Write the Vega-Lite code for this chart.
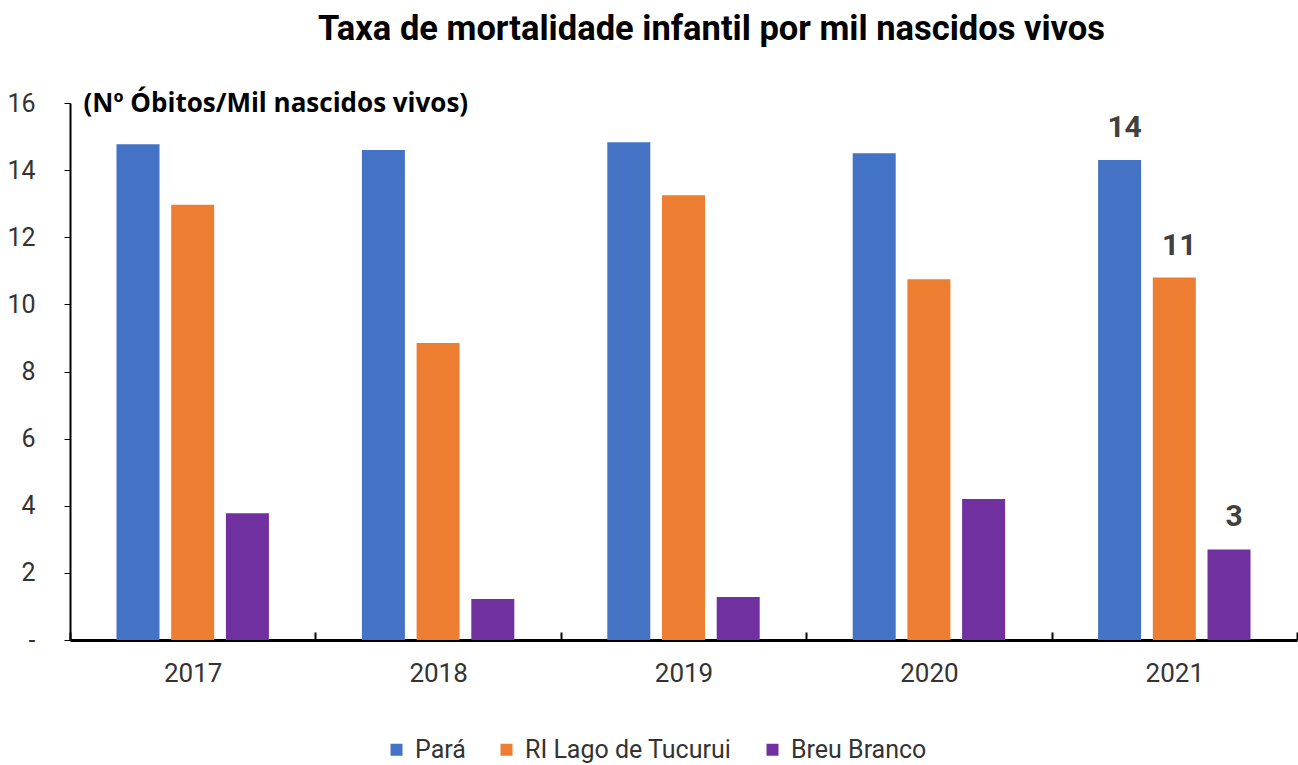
{
  "$schema": "https://vega.github.io/schema/vega-lite/v6.json",
  "width": 1227,
  "height": 537,
  "autosize": {"type": "none"},
  "padding": {"left": 70, "top": 103, "right": 1, "bottom": 125},
  "background": "white",
  "title": {
    "text": "Taxa de mortalidade infantil por mil nascidos vivos",
    "font": "Roboto",
    "fontSize": 34.5,
    "fontWeight": "bold",
    "color": "#000000",
    "anchor": "middle",
    "frame": "group",
    "dx": 28,
    "offset": 43
  },
  "data": {
    "values": [
      {"ano": "2017", "serie": "Pará", "valor": 14.77},
      {"ano": "2017", "serie": "RI Lago de Tucurui", "valor": 12.97},
      {"ano": "2017", "serie": "Breu Branco", "valor": 3.78},
      {"ano": "2018", "serie": "Pará", "valor": 14.6},
      {"ano": "2018", "serie": "RI Lago de Tucurui", "valor": 8.85},
      {"ano": "2018", "serie": "Breu Branco", "valor": 1.22},
      {"ano": "2019", "serie": "Pará", "valor": 14.83},
      {"ano": "2019", "serie": "RI Lago de Tucurui", "valor": 13.25},
      {"ano": "2019", "serie": "Breu Branco", "valor": 1.28},
      {"ano": "2020", "serie": "Pará", "valor": 14.5},
      {"ano": "2020", "serie": "RI Lago de Tucurui", "valor": 10.75},
      {"ano": "2020", "serie": "Breu Branco", "valor": 4.2},
      {"ano": "2021", "serie": "Pará", "valor": 14.3},
      {"ano": "2021", "serie": "RI Lago de Tucurui", "valor": 10.8},
      {"ano": "2021", "serie": "Breu Branco", "valor": 2.7}
    ]
  },
  "encoding": {
    "x": {
      "field": "ano",
      "type": "nominal",
      "scale": {"paddingInner": 0, "paddingOuter": 0},
      "axis": {
        "title": null,
        "labelAngle": 0,
        "tickBand": "extent",
        "tickSize": -8,
        "tickWidth": 2,
        "tickColor": "#000000",
        "domainColor": "#000000",
        "domainWidth": 3,
        "labelFont": "Roboto",
        "labelFontSize": 26,
        "labelColor": "#333333",
        "labelPadding": 28
      }
    },
    "xOffset": {
      "field": "serie",
      "type": "nominal",
      "sort": ["Pará", "RI Lago de Tucurui", "Breu Branco"],
      "scale": {"paddingInner": 0.214, "paddingOuter": 0.85}
    },
    "y": {
      "field": "valor",
      "type": "quantitative",
      "scale": {"domain": [0, 16], "nice": false},
      "axis": {
        "title": "(Nº Óbitos/Mil nascidos vivos)",
        "titleAngle": 0,
        "titleAlign": "left",
        "titleBaseline": "middle",
        "titleX": 13,
        "titleY": 0,
        "titleFont": "Open Sans",
        "titleFontSize": 26,
        "titleFontWeight": "bold",
        "titleColor": "#000000",
        "values": [0, 2, 4, 6, 8, 10, 12, 14, 16],
        "labelExpr": "datum.value == 0 ? '-' : datum.label",
        "labelFont": "Roboto",
        "labelFontSize": 25,
        "labelColor": "#333333",
        "labelPadding": 29,
        "tickSize": 6,
        "tickColor": "#000000",
        "domainColor": "#000000",
        "domainWidth": 2,
        "grid": false
      }
    }
  },
  "layer": [
    {
      "mark": {"type": "bar"},
      "encoding": {
        "color": {
          "field": "serie",
          "type": "nominal",
          "sort": ["Pará", "RI Lago de Tucurui", "Breu Branco"],
          "scale": {
            "domain": ["Pará", "RI Lago de Tucurui", "Breu Branco"],
            "range": ["#4472C4", "#ED7D31", "#7030A0"]
          },
          "legend": {
            "orient": "none",
            "legendX": 314,
            "legendY": 634,
            "direction": "horizontal",
            "title": null,
            "symbolType": "square",
            "symbolSize": 144,
            "symbolStrokeWidth": 0,
            "labelFont": "Roboto",
            "labelFontSize": 25,
            "labelColor": "#333333",
            "labelOffset": 6,
            "labelLimit": 400,
            "columnPadding": 28
          }
        }
      }
    },
    {
      "transform": [{"filter": "datum.ano == '2021'"}],
      "mark": {
        "type": "text",
        "font": "Roboto",
        "fontSize": 30,
        "fontWeight": "bold",
        "color": "#404040",
        "baseline": "alphabetic",
        "dy": -23,
        "dx": 5
      },
      "encoding": {
        "text": {"field": "valor", "type": "quantitative", "format": ".0f"}
      }
    }
  ],
  "config": {"view": {"stroke": null}}
}
